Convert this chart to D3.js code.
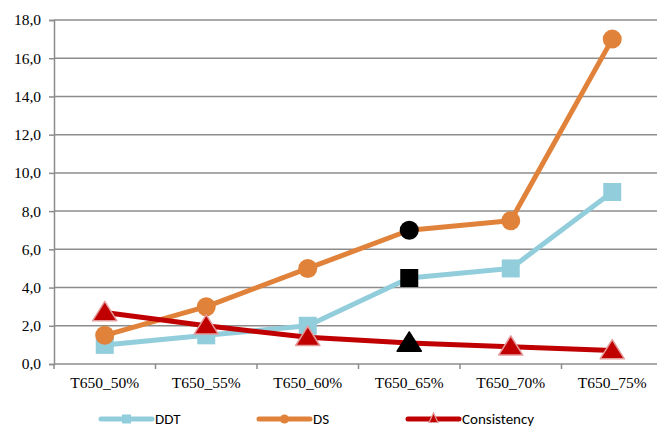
<!DOCTYPE html>
<html>
<head>
<meta charset="utf-8">
<script src="https://cdn.jsdelivr.net/npm/d3@7"></script>
<style>
  html, body { margin: 0; padding: 0; background: #fff; }
  svg { display: block; }
</style>
</head>
<body>
<svg id="chart" width="657" height="428"></svg>
<script>
// Categories and series values
const categories = ["T650_50%", "T650_55%", "T650_60%", "T650_65%", "T650_70%", "T650_75%"];
const ddtValues = [1.0, 1.5, 2.0, 4.5, 5.0, 9.0];
const dsValues = [1.5, 3.0, 5.0, 7.0, 7.5, 17.0];
const consistencyValues = [2.7, 2.0, 1.4, 1.1, 0.9, 0.7];
const yTicks = [0, 2, 4, 6, 8, 10, 12, 14, 16, 18];
const highlightIndex = 3; // point drawn in black on every series

const series = [
  { name: "DDT", values: ddtValues, color: "#92CDDC", marker: "square" },
  { name: "DS", values: dsValues, color: "#E0823A", marker: "circle" },
  { name: "Consistency", values: consistencyValues, color: "#C00000", marker: "triangle" }
];

const SERIF = '"Liberation Serif", "Times New Roman", serif';
const SANS = 'Carlito, Lato, sans-serif';

const svg = d3.select("#chart");
const plotLeft = 54, plotRight = 663, plotTop = 20, plotBottom = 364;

const x = d3.scaleBand().domain(categories).range([plotLeft, plotRight]).padding(0);
const y = d3.scaleLinear().domain([0, 18]).range([plotBottom, plotTop]);
const fmt = v => d3.format(".1f")(v).replace(".", ",");

// Horizontal gridlines
svg.append("g").selectAll("line").data(yTicks.filter(d => d > 0)).join("line")
  .attr("x1", plotLeft).attr("x2", plotRight)
  .attr("y1", d => y(d)).attr("y2", d => y(d))
  .attr("stroke", "#8c8c8c").attr("stroke-width", 1.5);

// Y axis
const yAxis = svg.append("g").attr("transform", `translate(${plotLeft},0)`)
  .call(d3.axisLeft(y).tickValues(yTicks).tickFormat(fmt).tickSize(5).tickPadding(8));
yAxis.select(".domain").attr("stroke", "#8c8c8c").attr("stroke-width", 1.5);
yAxis.selectAll(".tick line").attr("stroke", "#8c8c8c").attr("stroke-width", 1.5);
yAxis.selectAll("text")
  .style("font-family", SERIF).style("font-size", "15.5px").attr("fill", "#000");

// X axis with ticks at category boundaries
const xAxisG = svg.append("g").attr("transform", `translate(0,${plotBottom})`);
xAxisG.append("line").attr("x1", plotLeft).attr("x2", plotRight).attr("y1", 0).attr("y2", 0)
  .attr("stroke", "#8c8c8c").attr("stroke-width", 1.5);
const boundaries = categories.map(c => x(c)).concat([plotRight]);
xAxisG.selectAll("line.tk").data(boundaries).join("line").attr("class", "tk")
  .attr("x1", d => d).attr("x2", d => d).attr("y1", 0).attr("y2", 5)
  .attr("stroke", "#8c8c8c").attr("stroke-width", 1.5);
xAxisG.selectAll("text").data(categories).join("text")
  .attr("x", d => x(d) + x.bandwidth() / 2).attr("y", 24)
  .attr("text-anchor", "middle").attr("fill", "#000")
  .style("font-family", SERIF).style("font-size", "15.5px")
  .text(d => d);

const cx = i => x(categories[i]) + x.bandwidth() / 2;

function drawMarker(g, type, px, py, fill, stroke) {
  if (type === "square") {
    const h = 9;
    g.append("rect").attr("x", px - h).attr("y", py - h).attr("width", 2 * h).attr("height", 2 * h)
      .attr("fill", fill);
  } else if (type === "circle") {
    g.append("circle").attr("cx", px).attr("cy", py).attr("r", 9.5).attr("fill", fill);
  } else {
    const h = 11;
    const pts = [[px, py - h], [px + h * 1.1, py + h * 0.75], [px - h * 1.1, py + h * 0.75]];
    g.append("path").attr("d", "M" + pts.map(p => p.join(",")).join("L") + "Z")
      .attr("fill", fill).attr("stroke", stroke).attr("stroke-width", 1.5).attr("stroke-linejoin", "round");
  }
}

const line = d3.line().x((d, i) => cx(i)).y(d => y(d));

series.forEach(s => {
  const g = svg.append("g");
  g.append("path").datum(s.values).attr("d", line)
    .attr("fill", "none").attr("stroke", s.color).attr("stroke-width", 5).attr("stroke-linejoin", "round");
  s.values.forEach((v, i) => {
    const hl = i === highlightIndex;
    const fill = hl ? "#000" : s.color;
    const stroke = hl ? "#000" : (s.marker === "triangle" ? "#E39A9A" : s.color);
    drawMarker(g, s.marker, cx(i), y(v), fill, stroke);
  });
});

// Legend
const legendY = 419;
const legendItems = [
  { s: series[0], x0: 101 },
  { s: series[1], x0: 259 },
  { s: series[2], x0: 408 }
];
legendItems.forEach(({ s, x0 }) => {
  const g = svg.append("g");
  g.append("line").attr("x1", x0).attr("x2", x0 + 51).attr("y1", legendY).attr("y2", legendY)
    .attr("stroke", s.color).attr("stroke-width", 5).attr("stroke-linecap", "round");
  const mx = x0 + 25.5;
  if (s.marker === "square") {
    g.append("rect").attr("x", mx - 4.5).attr("y", legendY - 4.5).attr("width", 9).attr("height", 9).attr("fill", s.color);
  } else if (s.marker === "circle") {
    g.append("circle").attr("cx", mx).attr("cy", legendY).attr("r", 4.5).attr("fill", s.color);
  } else {
    g.append("path").attr("d", `M${mx},${legendY - 6}L${mx + 4.5},${legendY + 3.5}L${mx - 4.5},${legendY + 3.5}Z`)
      .attr("fill", s.color).attr("stroke", "#E39A9A").attr("stroke-width", 1.2);
  }
  g.append("text").attr("x", x0 + 54).attr("y", legendY + 5)
    .style("font-family", SANS).style("font-size", "15px")
    .attr("fill", "#000").text(s.name);
});
</script>
</body>
</html>
